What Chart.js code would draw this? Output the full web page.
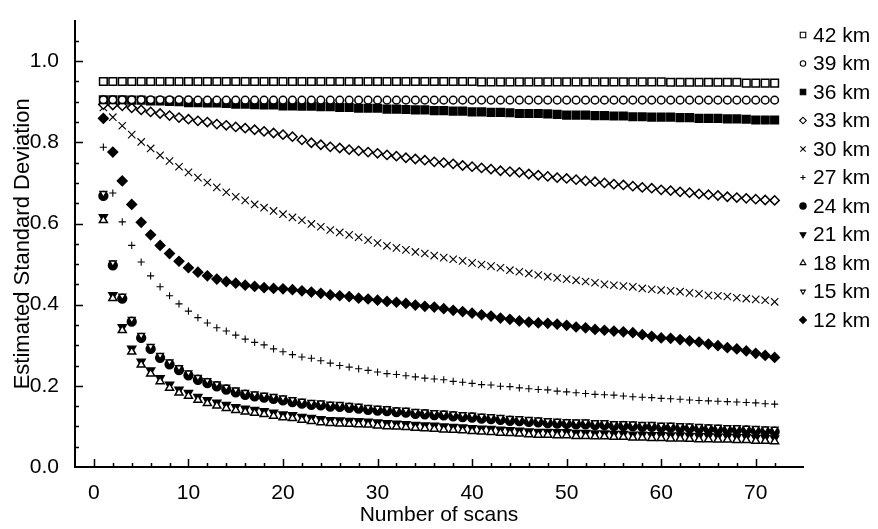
<!DOCTYPE html>
<html>
<head>
<meta charset="utf-8">
<script src="https://cdn.jsdelivr.net/npm/chart.js@4/dist/chart.umd.min.js"></script>
<style>
  html, body { margin: 0; padding: 0; background: #fff; }
  #wrap { width: 878px; height: 529px; position: relative; }
</style>
</head>
<body>
<div id="wrap"><canvas id="sdChart"></canvas></div>
<script>
// number of scans (x)
const scans = [
  1, 2, 3, 4, 5, 6, 7, 8, 9, 10, 11, 12, 13, 14, 15, 16, 17, 18, 19, 20,
  21, 22, 23, 24, 25, 26, 27, 28, 29, 30, 31, 32, 33, 34, 35, 36, 37, 38, 39, 40,
  41, 42, 43, 44, 45, 46, 47, 48, 49, 50, 51, 52, 53, 54, 55, 56, 57, 58, 59, 60,
  61, 62, 63, 64, 65, 66, 67, 68, 69, 70, 71, 72
];

// estimated standard deviation per range
const sd42 = [
  0.950, 0.950, 0.950, 0.950, 0.950, 0.950, 0.950, 0.950, 0.950, 0.950,
  0.950, 0.950, 0.950, 0.950, 0.950, 0.950, 0.950, 0.950, 0.950, 0.950,
  0.950, 0.950, 0.950, 0.950, 0.950, 0.950, 0.950, 0.950, 0.950, 0.950,
  0.950, 0.950, 0.950, 0.950, 0.950, 0.950, 0.950, 0.950, 0.950, 0.950,
  0.949, 0.949, 0.949, 0.949, 0.949, 0.949, 0.949, 0.949, 0.949, 0.949,
  0.949, 0.949, 0.949, 0.949, 0.949, 0.949, 0.949, 0.949, 0.949, 0.949,
  0.948, 0.948, 0.948, 0.948, 0.948, 0.948, 0.948, 0.948, 0.946, 0.946,
  0.946, 0.946
];
const sd39 = [
  0.905, 0.905, 0.905, 0.905, 0.905, 0.905, 0.905, 0.905, 0.905, 0.905,
  0.904, 0.904, 0.904, 0.904, 0.904, 0.904, 0.904, 0.904, 0.904, 0.904,
  0.904, 0.904, 0.904, 0.904, 0.904, 0.904, 0.904, 0.904, 0.904, 0.904,
  0.904, 0.904, 0.904, 0.904, 0.904, 0.904, 0.904, 0.904, 0.904, 0.904,
  0.904, 0.904, 0.904, 0.904, 0.904, 0.904, 0.904, 0.904, 0.904, 0.904,
  0.904, 0.904, 0.904, 0.904, 0.904, 0.904, 0.904, 0.904, 0.904, 0.904,
  0.904, 0.904, 0.904, 0.904, 0.904, 0.904, 0.904, 0.904, 0.904, 0.904,
  0.904, 0.904
];
const sd36 = [
  0.905, 0.905, 0.905, 0.904, 0.904, 0.902, 0.902, 0.901, 0.900, 0.898,
  0.898, 0.897, 0.897, 0.896, 0.894, 0.894, 0.893, 0.892, 0.892, 0.890,
  0.890, 0.889, 0.889, 0.888, 0.888, 0.886, 0.886, 0.884, 0.884, 0.884,
  0.882, 0.882, 0.881, 0.880, 0.880, 0.878, 0.878, 0.877, 0.877, 0.875,
  0.875, 0.874, 0.874, 0.873, 0.871, 0.871, 0.871, 0.870, 0.869, 0.867,
  0.867, 0.867, 0.866, 0.866, 0.865, 0.865, 0.863, 0.863, 0.862, 0.862,
  0.862, 0.861, 0.861, 0.859, 0.859, 0.859, 0.858, 0.858, 0.857, 0.855,
  0.855, 0.855
];
const sd33 = [
  0.893, 0.892, 0.890, 0.885, 0.880, 0.875, 0.871, 0.866, 0.861, 0.857,
  0.853, 0.850, 0.845, 0.842, 0.838, 0.835, 0.831, 0.827, 0.823, 0.819,
  0.814, 0.806, 0.799, 0.794, 0.789, 0.786, 0.782, 0.779, 0.776, 0.773,
  0.769, 0.766, 0.762, 0.759, 0.756, 0.752, 0.750, 0.747, 0.743, 0.740,
  0.737, 0.734, 0.730, 0.728, 0.726, 0.722, 0.719, 0.716, 0.713, 0.711,
  0.708, 0.705, 0.703, 0.700, 0.697, 0.695, 0.692, 0.689, 0.687, 0.683,
  0.681, 0.678, 0.676, 0.673, 0.671, 0.669, 0.666, 0.664, 0.662, 0.660,
  0.658, 0.657
];
const sd30 = [
  0.886, 0.862, 0.841, 0.819, 0.801, 0.785, 0.768, 0.754, 0.740, 0.726,
  0.713, 0.701, 0.689, 0.677, 0.666, 0.657, 0.647, 0.639, 0.631, 0.623,
  0.615, 0.608, 0.599, 0.592, 0.584, 0.578, 0.572, 0.566, 0.559, 0.552,
  0.545, 0.540, 0.535, 0.530, 0.526, 0.521, 0.516, 0.512, 0.508, 0.503,
  0.499, 0.495, 0.491, 0.485, 0.481, 0.477, 0.473, 0.469, 0.466, 0.463,
  0.460, 0.457, 0.454, 0.450, 0.448, 0.446, 0.444, 0.440, 0.438, 0.436,
  0.434, 0.432, 0.429, 0.427, 0.423, 0.422, 0.420, 0.417, 0.415, 0.413,
  0.411, 0.407
];
const sd27 = [
  0.788, 0.675, 0.604, 0.546, 0.505, 0.471, 0.444, 0.422, 0.402, 0.384,
  0.368, 0.355, 0.343, 0.335, 0.325, 0.315, 0.307, 0.301, 0.291, 0.284,
  0.277, 0.271, 0.268, 0.262, 0.256, 0.250, 0.246, 0.242, 0.238, 0.234,
  0.230, 0.228, 0.225, 0.222, 0.219, 0.217, 0.215, 0.211, 0.209, 0.206,
  0.203, 0.202, 0.199, 0.198, 0.195, 0.193, 0.191, 0.190, 0.187, 0.185,
  0.183, 0.181, 0.179, 0.178, 0.177, 0.175, 0.173, 0.172, 0.171, 0.169,
  0.168, 0.167, 0.165, 0.164, 0.163, 0.162, 0.161, 0.160, 0.159, 0.158,
  0.156, 0.155
];
const sd24 = [
  0.668, 0.497, 0.415, 0.358, 0.318, 0.291, 0.269, 0.253, 0.239, 0.226,
  0.215, 0.207, 0.199, 0.191, 0.184, 0.178, 0.174, 0.171, 0.168, 0.164,
  0.160, 0.156, 0.153, 0.152, 0.149, 0.148, 0.146, 0.144, 0.141, 0.139,
  0.138, 0.135, 0.134, 0.131, 0.130, 0.128, 0.127, 0.125, 0.123, 0.122,
  0.119, 0.118, 0.116, 0.114, 0.113, 0.111, 0.110, 0.108, 0.107, 0.106,
  0.105, 0.105, 0.103, 0.103, 0.101, 0.101, 0.100, 0.099, 0.099, 0.097,
  0.097, 0.096, 0.095, 0.094, 0.093, 0.092, 0.091, 0.091, 0.090, 0.089,
  0.088, 0.087
];
const sd21 = [
  0.616, 0.424, 0.345, 0.292, 0.260, 0.238, 0.219, 0.203, 0.191, 0.183,
  0.173, 0.165, 0.159, 0.153, 0.148, 0.144, 0.141, 0.138, 0.134, 0.130,
  0.128, 0.124, 0.121, 0.118, 0.116, 0.115, 0.114, 0.113, 0.112, 0.110,
  0.108, 0.107, 0.106, 0.104, 0.103, 0.102, 0.100, 0.099, 0.098, 0.096,
  0.095, 0.094, 0.092, 0.091, 0.090, 0.088, 0.087, 0.087, 0.086, 0.086,
  0.084, 0.084, 0.083, 0.083, 0.082, 0.082, 0.080, 0.080, 0.079, 0.079,
  0.078, 0.078, 0.077, 0.076, 0.076, 0.075, 0.075, 0.074, 0.074, 0.072,
  0.072, 0.071
];
const sd18 = [
  0.608, 0.416, 0.337, 0.284, 0.252, 0.230, 0.211, 0.195, 0.183, 0.175,
  0.165, 0.157, 0.151, 0.145, 0.140, 0.136, 0.133, 0.130, 0.126, 0.122,
  0.120, 0.116, 0.113, 0.110, 0.108, 0.107, 0.106, 0.105, 0.104, 0.102,
  0.100, 0.099, 0.098, 0.096, 0.095, 0.094, 0.092, 0.091, 0.090, 0.088,
  0.087, 0.086, 0.084, 0.083, 0.082, 0.080, 0.079, 0.079, 0.078, 0.078,
  0.076, 0.076, 0.075, 0.075, 0.074, 0.074, 0.072, 0.072, 0.071, 0.071,
  0.070, 0.070, 0.069, 0.068, 0.068, 0.067, 0.067, 0.066, 0.066, 0.064,
  0.064, 0.063
];
const sd15 = [
  0.674, 0.503, 0.421, 0.364, 0.324, 0.297, 0.275, 0.259, 0.245, 0.232,
  0.221, 0.213, 0.205, 0.197, 0.190, 0.184, 0.180, 0.177, 0.174, 0.170,
  0.166, 0.162, 0.159, 0.158, 0.155, 0.154, 0.152, 0.150, 0.147, 0.145,
  0.144, 0.141, 0.140, 0.137, 0.136, 0.134, 0.133, 0.131, 0.129, 0.128,
  0.125, 0.124, 0.122, 0.120, 0.119, 0.117, 0.116, 0.114, 0.113, 0.112,
  0.111, 0.111, 0.109, 0.109, 0.107, 0.107, 0.106, 0.105, 0.105, 0.103,
  0.103, 0.102, 0.101, 0.100, 0.099, 0.098, 0.097, 0.097, 0.096, 0.095,
  0.094, 0.093
];
const sd12 = [
  0.859, 0.776, 0.705, 0.647, 0.603, 0.572, 0.546, 0.526, 0.507, 0.491,
  0.480, 0.471, 0.463, 0.457, 0.453, 0.448, 0.445, 0.442, 0.440, 0.439,
  0.437, 0.434, 0.431, 0.428, 0.424, 0.422, 0.420, 0.416, 0.414, 0.411,
  0.408, 0.406, 0.403, 0.399, 0.396, 0.394, 0.390, 0.386, 0.383, 0.379,
  0.375, 0.372, 0.367, 0.364, 0.360, 0.357, 0.355, 0.354, 0.352, 0.349,
  0.345, 0.343, 0.339, 0.337, 0.335, 0.333, 0.331, 0.326, 0.322, 0.318,
  0.317, 0.314, 0.311, 0.308, 0.303, 0.299, 0.294, 0.291, 0.286, 0.280,
  0.275, 0.270
];

const xTicks = [0, 10, 20, 30, 40, 50, 60, 70];
const yTicks = [0, 0.2, 0.4, 0.6, 0.8, 1.0];

const FONT = "'Liberation Sans', Arial, Helvetica, sans-serif";
const BLACK = '#000';
const WHITE = '#fff';

// marker look per series: [label, values, pointStyle, radius, filled, rotation, order]
const series = [
  ['42 km', sd42, 'rect',      5.4, false, 0,   0],
  ['39 km', sd39, 'circle',    3.8, false, 0,  -1],
  ['36 km', sd36, 'rect',      5.4, true,  0,   0],
  ['33 km', sd33, 'rectRot',   4.6, false, 0,   0],
  ['30 km', sd30, 'crossRot',  5.2, false, 0,   0],
  ['27 km', sd27, 'cross',     3.6, false, 0,   0],
  ['24 km', sd24, 'circle',    4.4, true,  0,   0],
  ['21 km', sd21, 'triangle',  4.6, true,  180, 0],
  ['18 km', sd18, 'triangle',  4.6, false, 0,  -1],
  ['15 km', sd15, 'triangle',  3.8, false, 180, -1],
  ['12 km', sd12, 'rectRot',   4.8, true,  0,   0]
];

const datasets = series.map(([label, vals, style, r, filled, rot, order]) => ({
  label,
  data: scans.map((s, i) => ({ x: s, y: vals[i] })),
  pointStyle: style,
  pointRadius: r,
  pointHoverRadius: r,
  pointRotation: rot,
  backgroundColor: filled ? BLACK : WHITE,
  borderColor: BLACK,
  borderWidth: (style === 'cross' || style === 'crossRot') ? 1.1 : 1.5,
  showLine: false,
  order
}));

// inward major/minor tick marks on both axes
const innerTicks = {
  id: 'innerTicks',
  afterDatasetsDraw(chart) {
    const { ctx, scales: { x, y }, chartArea: a } = chart;
    ctx.save();
    ctx.strokeStyle = BLACK;
    ctx.lineWidth = 1.5;
    ctx.beginPath();
    for (let v = 0; v <= 72; v += 2) {
      const px = Math.round(x.getPixelForValue(v)) + 0.5;
      const len = v % 10 === 0 ? 8 : 4;
      ctx.moveTo(px, a.bottom);
      ctx.lineTo(px, a.bottom - len);
    }
    for (let k = 1; k <= 21; k++) {
      const v = k * 0.05;
      const py = Math.round(y.getPixelForValue(v)) + 0.5;
      const len = k % 4 === 0 ? 8 : 4;
      ctx.moveTo(a.left, py);
      ctx.lineTo(a.left + len, py);
    }
    ctx.stroke();
    ctx.restore();
  }
};

// legend column at the right edge
const sideLegend = {
  id: 'sideLegend',
  afterDraw(chart) {
    const { ctx } = chart;
    const x0 = 803, y0 = 35, step = 28.5;
    ctx.save();
    chart.data.datasets.forEach((ds, i) => {
      const y = y0 + i * step;
      ctx.fillStyle = ds.backgroundColor;
      ctx.strokeStyle = ds.borderColor;
      ctx.lineWidth = 1.1;
      Chart.helpers.drawPoint(ctx, {
        pointStyle: ds.pointStyle,
        rotation: ds.pointRotation,
        radius: ds.pointRadius * 0.72,
        borderWidth: 1.1
      }, x0, y);
      ctx.fillStyle = BLACK;
      ctx.font = '21px ' + FONT;
      ctx.textAlign = 'left';
      ctx.textBaseline = 'middle';
      ctx.fillText(ds.label, x0 + 10, y + 1);
    });
    ctx.restore();
  }
};

new Chart(document.getElementById('sdChart'), {
  type: 'scatter',
  data: { datasets },
  plugins: [innerTicks, sideLegend],
  options: {
    responsive: true,
    maintainAspectRatio: false,
    animation: false,
    devicePixelRatio: 1,
    layout: { padding: { top: 14, right: 75, bottom: 0, left: 0 } },
    font: { family: FONT },
    plugins: {
      legend: { display: false },
      tooltip: { enabled: false }
    },
    scales: {
      x: {
        type: 'linear',
        min: -2,
        max: 75,
        afterBuildTicks: s => { s.ticks = xTicks.map(v => ({ value: v })); },
        afterFit: s => { s.height = 62; },
        grid: { display: false },
        border: { display: true, color: BLACK, width: 2 },
        ticks: {
          color: BLACK,
          padding: 6,
          maxRotation: 0,
          font: { family: FONT, size: 21 },
          callback: v => String(v)
        },
        title: {
          display: true,
          text: 'Number of scans',
          color: BLACK,
          font: { family: FONT, size: 21 },
          padding: { top: 0, bottom: 1 }
        }
      },
      y: {
        type: 'linear',
        min: 0,
        max: 1.1,
        afterBuildTicks: s => { s.ticks = yTicks.map(v => ({ value: v })); },
        afterFit: s => { s.width = 75; },
        grid: { display: false },
        border: { display: true, color: BLACK, width: 2 },
        ticks: {
          color: BLACK,
          padding: 8,
          font: { family: FONT, size: 21 },
          callback: v => v.toFixed(1)
        },
        title: {
          display: true,
          text: 'Estimated Standard Deviation',
          color: BLACK,
          font: { family: FONT, size: 22 },
          padding: { top: 10, bottom: 0 }
        }
      }
    }
  }
});
</script>
</body>
</html>
